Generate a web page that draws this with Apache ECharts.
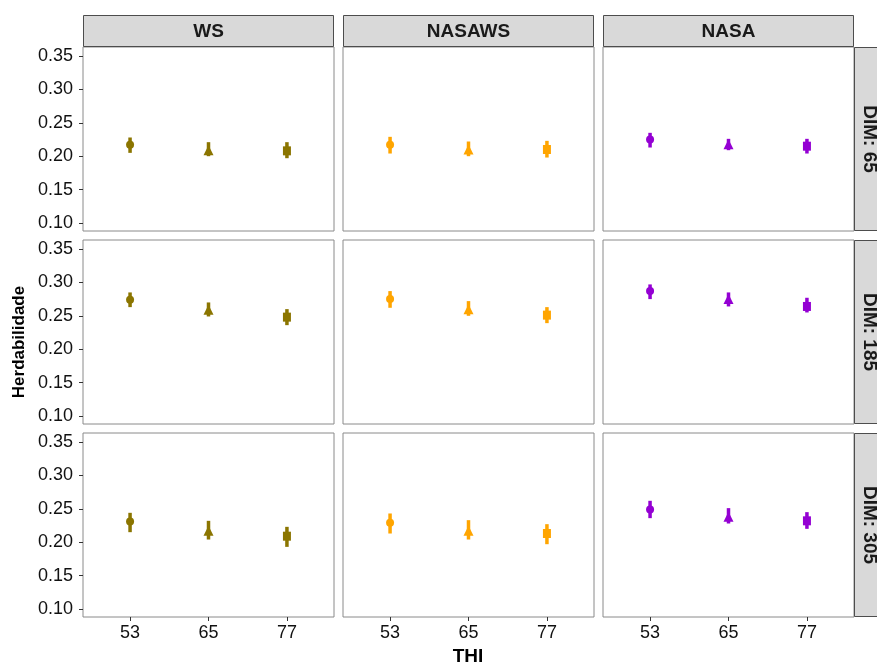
<!DOCTYPE html>
<html>
<head>
<meta charset="utf-8">
<script src="https://cdn.jsdelivr.net/npm/echarts@6/dist/echarts.min.js"></script>
<style>html,body{margin:0;padding:0;background:#fff}#c{width:877px;height:662px}</style>
</head>
<body>
<div id="c"></div>
<script>
// ---- data ----
const facets = ['WS', 'NASAWS', 'NASA'];
const dims = ['DIM: 65', 'DIM: 185', 'DIM: 305'];
const thiLabels = ['53', '65', '77'];
const yTicks = [0.10, 0.15, 0.20, 0.25, 0.30, 0.35];
const facetColors = ['#8B7500', '#FFA500', '#9400D3'];
const shapes = ['circle', 'triangle', 'rect'];

// rows = DIM 65, 185, 305 ; columns = THI 53, 65, 77
const wsEst = [[0.217, 0.209, 0.208], [0.274, 0.259, 0.248], [0.231, 0.217, 0.209]];
const wsLo  = [[0.205, 0.200, 0.197], [0.263, 0.249, 0.236], [0.215, 0.204, 0.193]];
const wsHi  = [[0.228, 0.221, 0.221], [0.285, 0.270, 0.260], [0.244, 0.232, 0.223]];

const nasawsEst = [[0.217, 0.210, 0.210], [0.275, 0.260, 0.251], [0.229, 0.217, 0.213]];
const nasawsLo  = [[0.204, 0.200, 0.198], [0.262, 0.250, 0.239], [0.213, 0.204, 0.197]];
const nasawsHi  = [[0.229, 0.222, 0.223], [0.287, 0.272, 0.263], [0.243, 0.233, 0.227]];

const nasaEst = [[0.225, 0.218, 0.215], [0.287, 0.275, 0.264], [0.249, 0.238, 0.232]];
const nasaLo  = [[0.213, 0.209, 0.204], [0.275, 0.264, 0.255], [0.236, 0.228, 0.220]];
const nasaHi  = [[0.235, 0.226, 0.226], [0.297, 0.285, 0.277], [0.262, 0.251, 0.245]];

const estByFacet = [wsEst, nasawsEst, nasaEst];
const loByFacet = [wsLo, nasawsLo, nasaLo];
const hiByFacet = [wsHi, nasawsHi, nasaHi];

// ---- layout ----
const colLeft = [83, 343, 603];
const rowTop = [47, 240, 433];
const panelW = 251, panelH = 184;
const FONT = '"Liberation Sans", Arial, sans-serif';

const grids = [], xAxes = [], yAxes = [], series = [], graphics = [];
let gi = 0;
for (let r = 0; r < 3; r++) {
  for (let c = 0; c < 3; c++) {
    grids.push({left: colLeft[c], top: rowTop[r], width: panelW, height: panelH,
      show: true, borderColor: '#8a8a8a', borderWidth: 1, backgroundColor: '#fff', containLabel: false});
    xAxes.push({
      type: 'value', gridIndex: gi, min: 0.4, max: 3.6,
      axisLine: {show: false}, splitLine: {show: false},
      axisTick: {show: r === 2, customValues: [1, 2, 3], length: 4, lineStyle: {color: '#333'}},
      axisLabel: {show: r === 2, customValues: [1, 2, 3], formatter: v => thiLabels[Math.round(v) - 1],
        fontSize: 18, color: '#111', fontFamily: FONT, margin: 7}
    });
    yAxes.push({
      type: 'value', gridIndex: gi, min: 0.088, max: 0.3635,
      axisLine: {show: false}, splitLine: {show: false},
      axisTick: {show: c === 0, customValues: yTicks, length: 4, lineStyle: {color: '#333'}},
      axisLabel: {show: c === 0, customValues: yTicks, formatter: v => v.toFixed(2),
        fontSize: 18, color: '#111', fontFamily: FONT, margin: 10}
    });
    const est = estByFacet[c][r], lo = loByFacet[c][r], hi = hiByFacet[c][r];
    const col = facetColors[c];
    series.push({
      type: 'custom', xAxisIndex: gi, yAxisIndex: gi, silent: true, z: 2,
      data: thiLabels.map((t, i) => [i + 1, lo[i], hi[i]]),
      renderItem: (params, api) => {
        const p1 = api.coord([api.value(0), api.value(1)]);
        const p2 = api.coord([api.value(0), api.value(2)]);
        return {type: 'line', shape: {x1: p1[0], y1: p1[1], x2: p2[0], y2: p2[1]},
          style: {stroke: col, lineWidth: 3.5}};
      }
    });
    series.push({
      type: 'scatter', xAxisIndex: gi, yAxisIndex: gi, silent: true, z: 3,
      itemStyle: {color: col, opacity: 1},
      data: thiLabels.map((t, i) => ({
        value: [i + 1, est[i]],
        symbol: shapes[i],
        symbolSize: i === 0 ? 8 : (i === 1 ? 10 : [8, 9])
      }))
    });
    gi++;
  }
}

// top strips
for (let c = 0; c < 3; c++) {
  graphics.push({type: 'rect', shape: {x: colLeft[c] + 0.5, y: 15.5, width: panelW - 1, height: 31},
    style: {fill: '#d9d9d9', stroke: '#4d4d4d', lineWidth: 1}, z: 10});
  graphics.push({type: 'text', x: colLeft[c] + panelW / 2, y: 31.5,
    style: {text: facets[c], font: 'bold 19px ' + FONT, fill: '#1a1a1a', textAlign: 'center', textVerticalAlign: 'middle'}, z: 11});
}
// right strips
for (let r = 0; r < 3; r++) {
  graphics.push({type: 'rect', shape: {x: 854.5, y: rowTop[r] + 0.5, width: 30, height: panelH - 1},
    style: {fill: '#d9d9d9', stroke: '#4d4d4d', lineWidth: 1}, z: 10});
  graphics.push({type: 'text', x: 869, y: rowTop[r] + panelH / 2, rotation: -Math.PI / 2,
    style: {text: dims[r], font: 'bold 19px ' + FONT, fill: '#1a1a1a', textAlign: 'center', textVerticalAlign: 'middle'}, z: 11});
}
// axis titles
graphics.push({type: 'text', x: 19, y: 342, rotation: Math.PI / 2,
  style: {text: 'Herdabilidade', font: 'bold 17px ' + FONT, fill: '#000', textAlign: 'center', textVerticalAlign: 'middle'}});
graphics.push({type: 'text', x: 468, y: 657,
  style: {text: 'THI', font: 'bold 19px ' + FONT, fill: '#000', textAlign: 'center', textVerticalAlign: 'middle'}});

const chart = echarts.init(document.getElementById('c'), null, {renderer: 'canvas'});
chart.setOption({
  animation: false,
  backgroundColor: '#fff',
  grid: grids, xAxis: xAxes, yAxis: yAxes, series: series, graphic: graphics
});
</script>
</body>
</html>
